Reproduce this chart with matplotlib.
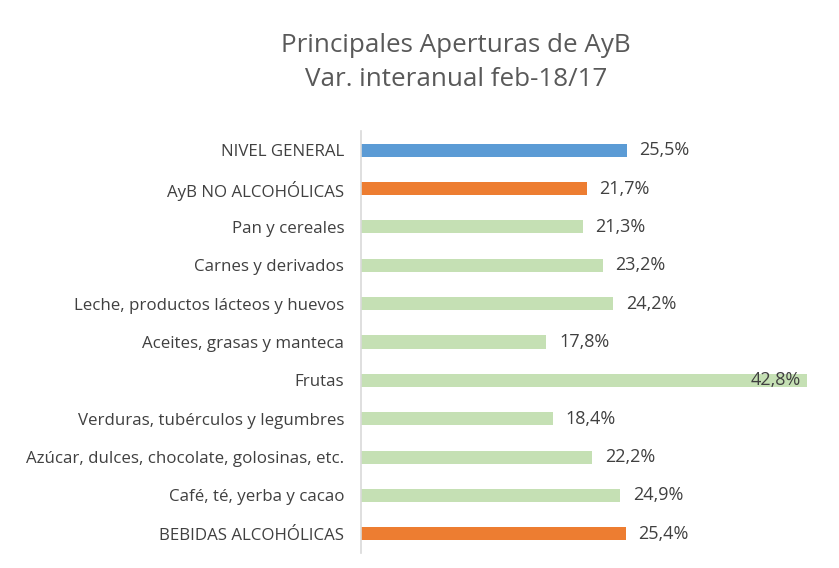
import matplotlib
matplotlib.use('Agg')
import matplotlib.pyplot as plt

# data
categories = ['NIVEL GENERAL', 'AyB NO ALCOHÓLICAS', 'Pan y cereales', 'Carnes y derivados',
              'Leche, productos lácteos y huevos', 'Aceites, grasas y manteca', 'Frutas',
              'Verduras, tubérculos y legumbres', 'Azúcar, dulces, chocolate, golosinas, etc.',
              'Café, té, yerba y cacao', 'BEBIDAS ALCOHÓLICAS']
values = [25.5, 21.7, 21.3, 23.2, 24.2, 17.8, 42.8, 18.4, 22.2, 24.9, 25.4]
groups = ['total', 'cap', 'item', 'item', 'item', 'item', 'item', 'item', 'item', 'item', 'cap']

COLORS = {'total': '#5B9BD5', 'cap': '#ED7D31', 'item': '#C5E0B4'}
TEXT = '#404040'
plt.rcParams['font.family'] = ['Open Sans', 'DejaVu Sans']

fig = plt.figure(figsize=(8.39, 5.68), dpi=100, facecolor='white')
ax = fig.add_axes([361/839, 1 - 553/568, 447/839, 422/568])

y = list(range(len(categories)))
ax.barh(y, values, height=0.34, color=[COLORS[g] for g in groups], zorder=2)
ax.set_yticks(y)
ax.set_yticklabels(categories, fontsize=12.2, color=TEXT)
ax.set_ylim(len(categories) - 0.5, -0.5)
ax.set_xlim(0, 42.9)
ax.set_xticks([])
ax.tick_params(axis='y', length=0, pad=12)
for s in ['top', 'right', 'bottom']:
    ax.spines[s].set_visible(False)
ax.spines['left'].set_color('#D9D9D9')
ax.spines['left'].set_linewidth(1.2)

for i, v in enumerate(values):
    lbl = f"{v:.1f}%".replace('.', ',')
    if v > 40:
        ax.text(v - 0.6, i, lbl, va='center', ha='right', fontsize=13, color=TEXT)
    else:
        ax.text(v + 1.2, i, lbl, va='center', ha='left', fontsize=13, color=TEXT)

fig.text(456/839, 1 - 45/568, 'Principales Aperturas de AyB', ha='center', va='center',
         fontsize=18.7, color='#595959')
fig.text(456/839, 1 - 80/568, 'Var. interanual feb-18/17', ha='center', va='center',
         fontsize=18.7, color='#595959')

fig.savefig('out.png', dpi=100, facecolor='white')
